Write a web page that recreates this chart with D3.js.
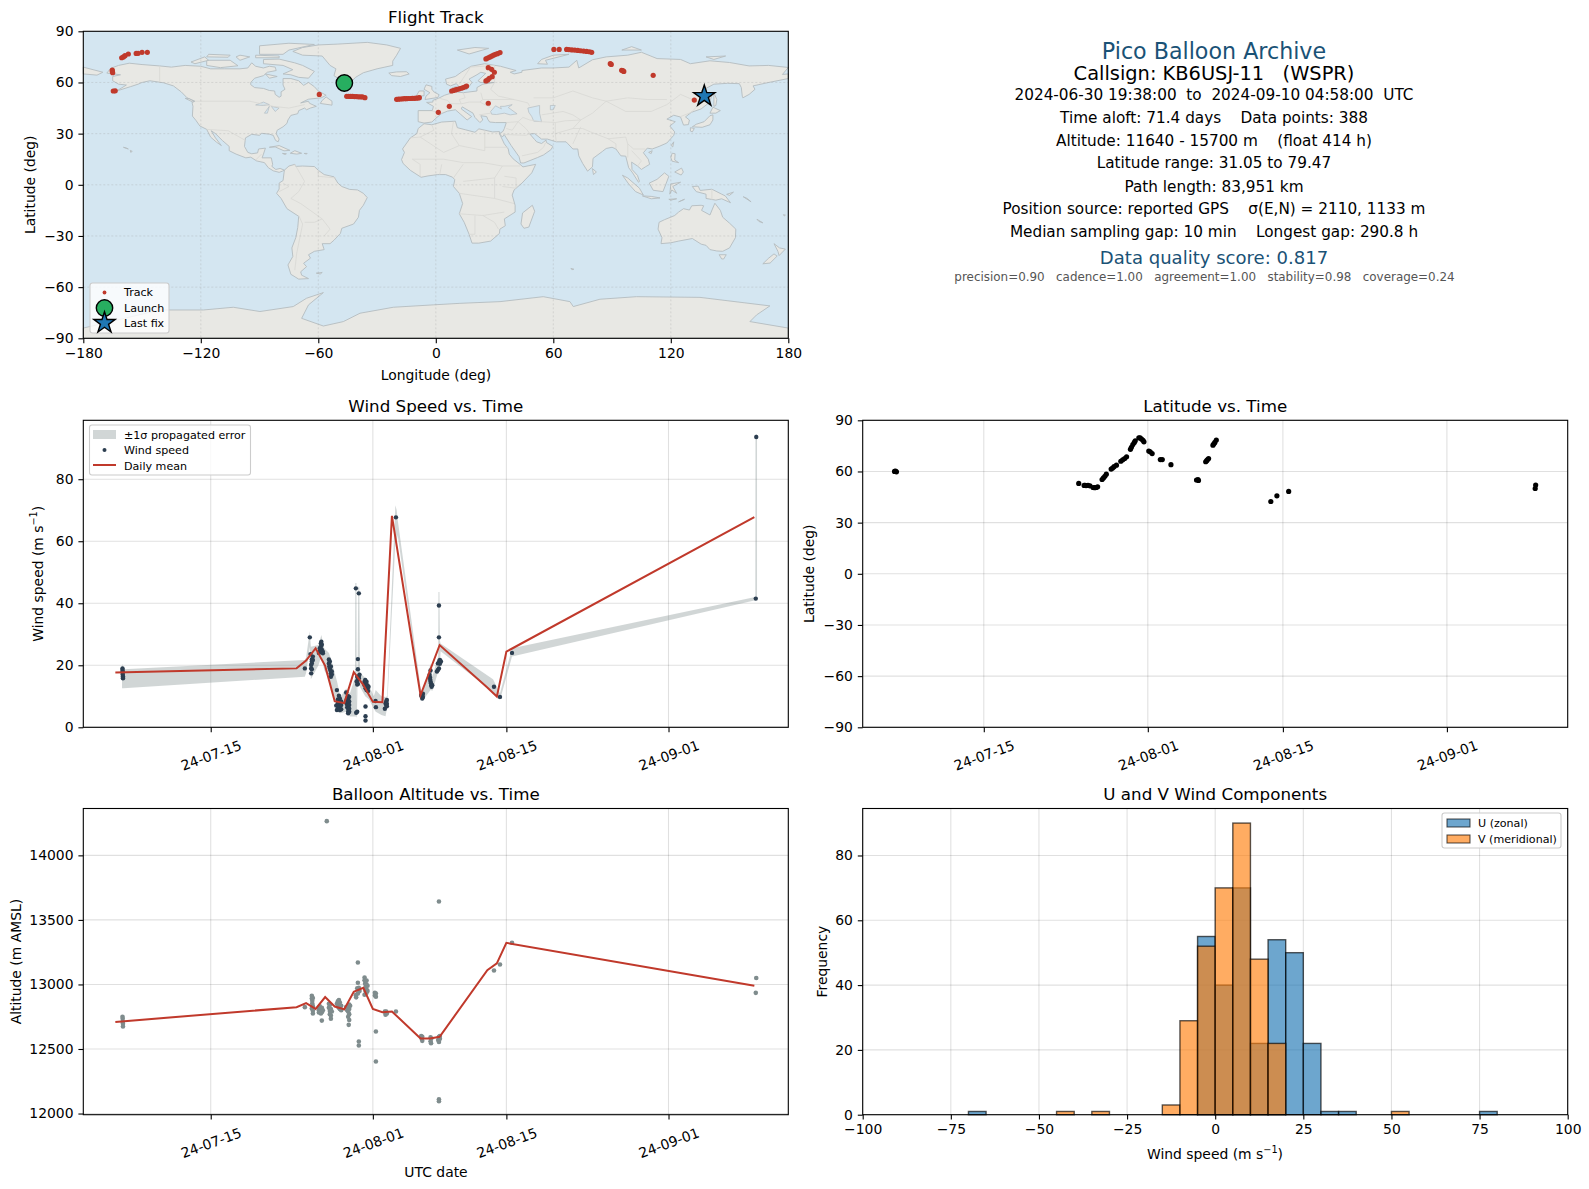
<!DOCTYPE html>
<html>
<head>
<meta charset="utf-8">
<script src="https://cdn.jsdelivr.net/npm/d3@7"></script>
<style>
  html, body { margin: 0; padding: 0; background: #fff; }
  svg { display: block; }
  text { font-family: "DejaVu Sans", sans-serif; fill: #000; white-space: pre; }
</style>
</head>
<body>
<div id="chart"></div>
<script>
/* all times are days since 2024-07-01 00:00 UTC */
const t0 = Date.UTC(2024, 6, 1)
const toDate = t => new Date(t0 + t * 864e5)

const meanDays = [4, 23, 24, 25, 26, 27, 28, 29, 30, 31, 32, 33, 36, 37, 38, 43, 44, 45, 71]
const windMean = [17.7, 19.0, 21.5, 25.5, 19.8, 8.4, 7.8, 17.8, 13.7, 8.2, 8.1, 68.2, 10.4, 18.4, 26.5, 12.8, 9.9, 24.4, 67.8]
const altMean = [12710, 12824, 12855, 12811, 12902, 12829, 12808, 12943, 12974, 12811, 12785, 12791, 12581, 12581, 12594, 13111, 13163, 13322, 12990]

const windObs = [
  [4.75,19],[4.75,18.5],[4.77,18],[4.77,17.5],[4.77,17],[4.8,16.5],[4.8,16],[4.8,15.8],
  [23.87,19],[24.39,29],[24.53,17.4],[24.53,19],[24.53,20.1],[24.6,21.2],[24.6,21.9],[24.6,20.6],[24.6,18.7],[24.71,22.8],[24.71,21.7],[24.46,23.6],
  [25.34,24],[25.44,24.4],[25.44,25.5],[25.55,26],[25.55,27.1],[25.6,27.6],[25.65,25],[25.65,26.6],[25.76,24.4],[25.76,23.9],[25.55,24.4],
  [26.39,21.9],[26.39,20.6],[26.43,19.6],[26.49,21.2],[26.49,19],[26.55,18.3],[26.6,17.4],[26.6,19.6],[26.7,18],[26.7,17],[26.6,16.3],
  [27.23,12],[27.16,7],[27.23,5.6],[27.33,9],[27.33,7.7],[27.38,6.5],[27.44,10.2],[27.44,8.8],[27.44,7.2],[27.54,9.3],[27.54,6.7],[27.54,5.6],[27.68,8.3],[27.68,7.2],[27.68,5.8],
  [28.2,11.2],[28.27,9],[28.27,7.5],[28.31,8.5],[28.31,6.5],[28.41,10],[28.41,9],[28.41,8],[28.41,7],[28.41,6],[28.41,5],[28.41,4.5],[28.52,9.8],[28.52,8.3],[28.52,7.2],[28.52,6],[28.52,5],
  [29.22,44.8],[29.53,43.2],[29.43,22],[29.43,18.7],[29.36,16.3],[29.43,15.3],[29.53,16.3],[29.53,15.8],[29.6,17],[29.3,14.8],[29.36,13.8],[29.43,14],[29.25,4.7],[29.36,5],
  [30.13,14.7],[30.13,13.6],[30.2,15.3],[30.23,14.2],[30.23,12.6],[30.34,14.7],[30.34,13.6],[30.34,12],[30.44,13.5],[30.44,12.6],[30.5,11.7],[30.55,13.1],[30.23,6.7],[30.23,3.6],[30.23,2.2],
  [31.28,8.5],[31.32,6.5],[32.26,6],[32.33,7.7],[32.4,8.3],[32.4,7.2],[32.47,8.8],[32.47,7.6],[32.47,6.8],[33.42,67.7],
  [36.07,10.4],[36.12,9.9],[36.18,10.4],[36.18,9.3],[36.25,10.8],[36.25,9.8],
  [37.05,18.3],[36.95,16.9],[37,16],[37.02,15.3],[37.05,14.7],[37.1,14.2],[37.12,13.6],[37.16,13.1],[37.23,13.6],
  [37.93,39.3],[37.93,29],[37.72,18],[37.82,18.5],[37.82,20.6],[37.93,19],[37.93,20.8],[37.97,21.4],[38.03,21.7],[38.03,20.5],[38.14,21.2],
  [43.7,13.1],[44.33,9.8],[45.59,24],[71.15,41.5],[71.2,93.6]
]

/* t, low, high of the propagated error band */
const windBand = [
  [4.7,12.6,20.6],[4.85,12.6,18.7],[23.87,16.3,21.7],[24.0,17.5,22.5],[24.39,26,31],[24.5,15.5,26],[25.3,20,26.5],[25.6,23,29.8],[25.9,18.5,25.5],
  [26.4,15.5,24],[26.75,11,20.5],[27.25,5,14.7],[27.6,4.5,9.8],[28.2,5,12.5],[28.6,3.5,11],[29.12,3.5,16],[29.16,3.5,46.5],[29.28,3.5,46.5],[29.32,3,8],[29.4,14,20],
  [29.47,14,45.3],[29.58,14,45.3],[29.65,13,17.5],[30.2,10,16],[30.6,9,13.5],[31.1,6,10],[31.3,5,12],[31.9,4,10],[32.33,3.6,9.8],[32.5,6.5,10],[33.36,60,71.6],[33.5,60,70],[33.6,62,67],
  [36.07,8.8,11.5],[36.3,9,12],[37.05,12,20.5],[37.25,11.8,16.5],[37.85,18,23],[37.88,18,43.6],[37.98,18,43.6],[38.03,18.5,28],[38.1,24.5,27],
  [43.6,11.5,15.5],[44.33,8.8,11],[45.59,22.8,25.5],[71.1,41,42],[71.12,41,94.5],[71.28,41,94.5]
]

const altObs = [
  [4.75,12750],[4.77,12735],[4.77,12710],[4.8,12695],[4.8,12675],[23.87,12824],[26.17,14265],
  [24.6,12912],[24.6,12891],[24.65,12873],[24.65,12852],[24.71,12895],[24.71,12832],[24.6,12814],[24.71,12796],[24.71,12775],
  [25.34,12821],[25.34,12801],[25.34,12783],[25.44,12830],[25.44,12790],[25.55,12810],[25.55,12775],[25.65,12820],[25.65,12785],[25.76,12800],[25.65,12720],
  [26.39,12850],[26.39,12820],[26.49,12840],[26.49,12795],[26.49,12770],[26.6,12810],[26.6,12760],[26.6,12735],[26.7,12790],
  [27.23,12850],[27.33,12870],[27.33,12830],[27.44,12880],[27.44,12850],[27.44,12820],[27.54,12860],[27.54,12810],[27.68,12835],[27.68,12800],
  [28.2,12825],[28.31,12800],[28.41,12835],[28.41,12790],[28.41,12750],[28.52,12845],[28.52,12810],[28.52,12770],[28.52,12725],[28.47,12687],[28.62,12835],
  [29.22,12917],[29.25,12900],[29.36,12970],[29.43,13013],[29.53,12975],[29.43,12930],[29.6,12950],[29.43,13170],[29.53,12558],[29.53,12527],
  [30.13,13054],[30.13,13033],[30.2,13010],[30.23,13000],[30.23,12975],[30.23,12950],[30.34,13030],[30.34,13000],[30.34,12960],[30.34,12935],[30.44,12990],[30.44,12950],[30.13,12920],
  [31.21,12935],[31.21,12915],[31.32,12930],[31.32,12905],[31.32,12635],[31.32,12403],
  [32.26,12790],[32.33,12780],[32.33,12765],[32.4,12790],[32.47,12775],[33.42,12790],
  [36.07,12600],[36.12,12580],[36.18,12563],[36.18,12595],[37.05,12590],[37.05,12560],[37.1,12545],[37.12,12580],
  [37.85,12570],[37.93,12555],[37.93,12595],[38.03,12580],[38.03,12600],[37.93,13643],[37.93,12111],[37.93,12095],
  [43.7,13108],[44.33,13155],[45.59,13323],[71.15,12935],[71.2,13050]
]

const latObs = [
  [4.75,60],[4.85,60.2],[4.95,59.8],
  [23.84,53],[24.4,51.8],[24.5,51.8],[24.6,51.7],[24.8,51.8],[25,51.6],[25.33,50.6],[25.5,50.5],[25.65,50.6],[25.8,51],
  [26.26,55.3],[26.4,56.2],[26.55,57.2],[26.7,58.4],[27.2,61.4],[27.35,62],[27.5,62.8],[27.75,63.7],[28.2,66],[28.4,66.8],[28.6,67.6],[28.8,68.6],
  [29.2,73],[29.3,74.2],[29.45,75.8],[29.6,77],[29.7,78],[30.07,79.7],[30.2,79.7],[30.35,79],[30.5,78.3],[30.6,77.4],
  [31.1,72],[31.25,71.5],[31.45,70.5],[32.3,67],[32.5,67],[33.4,64],[36.05,55],[36.2,55.2],[36.25,54.7],
  [37,65.7],[37.1,66.3],[37.2,67],[37.3,67.6],[37.75,75.4],[37.85,76.2],[37.95,77],[38.1,78.4],
  [43.75,42.4],[44.38,45.7],[45.6,48.3],[71.15,50],[71.2,52]
]

const trackLon = [
  -164.7,-163.7,-165.2,-165.2,-165,-160.4,-159.5,-158.7,-157,-153,-152,-150,-147.3,-59.5,
  -45.5,-44.5,-43.5,-42.5,-41.5,-40.5,-39.5,-38.5,-37.5,-36.2,
  -20,-19,-18,-17,-16,-15,-14,-13,-12,-11,-10,-9,-8.4,1.3,6.9,
  8.1,9,10,11,12,13,14,15,15.7,26.8,25.6,26.5,27.5,28.5,29.5,30.5,31.5,32.8,
  26.8,28.5,29.9,28.8,27.3,25.6,26.5,60.3,63,66.8,68,69.5,71,72.5,74,75.5,77,78.5,79.6,
  89.1,89.6,94.9,95.5,96,111,132
]
const trackLat = [
  55,55.1,67.3,66.5,65.7,74.5,75,75.7,76.7,77,77.1,77.7,77.7,53,
  51.9,51.9,51.8,51.8,51.7,51.7,51.6,51.6,51.5,51.1,
  50.1,50.2,50.3,50.4,50.5,50.5,50.6,50.6,50.7,50.7,50.8,50.9,51.1,42.5,46,
  55,55.3,55.6,56,56.3,56.6,57,57.5,57.9,47.8,73.8,74.3,74.8,75.4,76,76.5,76.9,77.5,
  68.7,67.7,66,63.4,62.4,60.9,61.5,79.4,79.4,79.4,79.3,79.1,79,78.8,78.6,78.4,78.2,78,77.7,
  71,70.6,67.1,66.9,66.5,64.2,49.7
]
const launchPos = [-46.7, 59.7]
const lastFixPos = [137.1, 52]

const histEdges = d3.range(-100, 105, 5)
const uCounts = {"-70":1, "-5":55, "0":40, "5":70, "10":22, "15":54, "20":50, "25":22, "30":1, "35":1, "75":1}
const vCounts = {"-45":1, "-35":1, "-15":3, "-10":29, "-5":52, "0":70, "5":90, "10":48, "15":22, "50":1}

const dateTicks = ["2024-07-15", "2024-08-01", "2024-08-15", "2024-09-01"].map(d => new Date(d + "T00:00:00Z"))

const infoLines = [
  ["Pico Balloon Archive", 1214, 50.7, 22.2, "#1a5276"],
  ["Callsign: KB6USJ-11   (WSPR)", 1214, 73, 19.4, "#000"],
  ["2024-06-30 19:38:00  to  2024-09-10 04:58:00  UTC", 1214, 95, 15.28, "#000"],
  ["Time aloft: 71.4 days    Data points: 388", 1214, 117.6, 15.28, "#000"],
  ["Altitude: 11640 - 15700 m    (float 414 h)", 1214, 140.9, 15.28, "#000"],
  ["Latitude range: 31.05 to 79.47", 1214, 163.2, 15.28, "#000"],
  ["Path length: 83,951 km", 1214, 186.5, 15.28, "#000"],
  ["Position source: reported GPS    σ(E,N) = 2110, 1133 m", 1214, 209.3, 15.28, "#000"],
  ["Median sampling gap: 10 min    Longest gap: 290.8 h", 1214, 232, 15.28, "#000"],
  ["Data quality score: 0.817", 1214, 257.4, 18.06, "#1a5276"],
  ["precision=0.90   cadence=1.00   agreement=1.00   stability=0.98   coverage=0.24", 1204.5, 277.2, 11.93, "#555"]
]

/* rough coastlines, lon/lat */
const land = [
  [[-168,65.5],[-166,68.3],[-162,70],[-156.5,71.3],[-150,70.5],[-141,69.7],[-135,69],[-128,70],[-120,69.5],[-115,68],[-108,68],[-100,68],[-96,68.5],[-94,71.5],[-92,69.5],[-88,68.5],[-85,69.5],[-82,69],[-81.5,67],[-86,66],[-88,64],[-92.5,62.5],[-94.5,60],[-94.5,58.7],[-92.5,57],[-88,56.5],[-85,55.3],[-82.3,55],[-82,53],[-80,51.3],[-79,52],[-79,54.5],[-77,56],[-78,58.5],[-78,62.3],[-74,62.3],[-70,61],[-67.5,58.3],[-65,60],[-62,57.5],[-60,55],[-56,52.5],[-58.5,51],[-65,50.2],[-69,48],[-65,49],[-64.5,47.8],[-61,46],[-64,45],[-66,44],[-67,45],[-70,43.5],[-70.5,41.7],[-74,40.7],[-75.5,38],[-76,36],[-78,34],[-81,32],[-81.5,30],[-80,26.8],[-80.5,25.2],[-81.8,26],[-83,29],[-85,29.7],[-89,30.2],[-90,29],[-94,29.6],[-97.2,27.5],[-97.7,22.5],[-96,19],[-94,18.2],[-91,18.7],[-90.5,21],[-87,21.5],[-88,18],[-88.7,15.8],[-84,15.8],[-83.3,12],[-83.7,10.8],[-81.7,9],[-79.5,9.6],[-77.3,8.6],[-78.3,8],[-80,7.3],[-83,8.2],[-85.5,10],[-87.5,13],[-91.5,14],[-94.5,16.2],[-97,15.8],[-102,18],[-105.5,20],[-105.5,22.5],[-109,26],[-112.5,30],[-114.7,31.7],[-112.5,27.5],[-109.5,23],[-112,25],[-115,28],[-117,32.5],[-120.5,34.5],[-122.5,37.8],[-124.3,40.3],[-124,46],[-124.5,48.3],[-123,49],[-127,51],[-130,54.5],[-134,58],[-139,59.8],[-146,61],[-150,60],[-152,59],[-156,57.5],[-163,55],[-158,58.5],[-162,59],[-165,61],[-165,63.5],[-161,64.5]],
  [[-73,78.2],[-68,76],[-58,75.5],[-54,70],[-51,68],[-52,64],[-48,61],[-43.5,60],[-41,63],[-37,65.7],[-30,68],[-22,70],[-22,72.5],[-20,76],[-18,80],[-25,82],[-35,83.5],[-50,82.5],[-60,82],[-68,80.5]],
  [[-80,73.7],[-72,71.5],[-68,70],[-62,66.5],[-65,62.5],[-70,63],[-74,64.5],[-78,65],[-73,67.5],[-78,70],[-88,71],[-88,73.5]],
  [[-117,73],[-105,73],[-101,69.8],[-110,68.7],[-117,70]],
  [[-125,72],[-118,75],[-116,73],[-123,71]],
  [[-90,76.5],[-78,76.5],[-75,79],[-62,82.3],[-75,83],[-90,81.5]],
  [[-92,76],[-80,75.5],[-80,74.5],[-92,74.5]],
  [[-116,76.5],[-105,76],[-106,74.8],[-117,75]],
  [[-100,76],[-95,75],[-100,73],[-102,75]],
  [[-59,47.7],[-53,46.7],[-53,49],[-56,51.5],[-58,49.5]],
  [[-87,65],[-81,63.5],[-85,62.5]],
  [[-128,50.7],[-124,48.5],[-123.5,49],[-126,50.5]],
  [[-85,22],[-80,23],[-74.5,20.2],[-77.5,19.9],[-82,22.2]],
  [[-74.3,18.5],[-72,20],[-68.5,18.5],[-71,18]],
  [[-78.3,18.4],[-76.3,18.2],[-77,17.8]],
  [[-67.2,18.4],[-65.7,18.4],[-66,18]],
  [[-156,20.2],[-155,19.6],[-155.8,19]],
  [[-159.5,22],[-158,21.5],[-157,21]],
  [[-77.3,8.6],[-75,11],[-72,12],[-71.5,10.8],[-68,11],[-62,10.7],[-60,8.5],[-57,6],[-52,4.7],[-50,1],[-48,-1],[-44,-2.7],[-40,-3],[-37,-5],[-35,-7.5],[-37,-12],[-39,-15],[-39.5,-19],[-42,-23],[-48,-25.5],[-48.7,-28.5],[-52,-32.5],[-54,-34.5],[-58,-34.5],[-57,-38],[-62,-39],[-65,-41],[-64,-43],[-67.5,-46],[-66,-48],[-69,-51],[-68.5,-53],[-65,-55],[-70,-55.3],[-74,-52.5],[-75.5,-47],[-73,-42],[-73.5,-37],[-71.5,-31],[-70.5,-25],[-70,-18.5],[-76,-14],[-79,-8],[-81.3,-5],[-80,-2.5],[-80,1],[-78,2.5],[-77.5,7]],
  [[-61,-51.8],[-58,-51.4],[-59,-52.3]],
  [[-6,35.8],[-2,35.2],[3,36.8],[10,37.3],[11,33.5],[15,32.3],[20,30.8],[22,32.8],[29,31],[32.5,31.2],[32.5,30],[35,24],[37,21],[37.5,18],[39.5,15.2],[43,12],[44.5,10.5],[51,12],[49,7],[44,1],[40,-3],[39,-6],[40.5,-12],[40.5,-16],[35,-20],[35.5,-24],[32.7,-26],[32.5,-28.5],[28,-33],[22,-34.2],[18.5,-34.2],[17,-29],[14.5,-22],[12,-17],[13.7,-11],[12,-5],[9,-1],[9.7,3],[8.5,4.5],[5,6],[1,6],[-4,5.2],[-7.5,4.4],[-13,8.5],[-16.7,12.5],[-17.5,14.8],[-16,19],[-17,21],[-13,27.5],[-9.7,30],[-9,33]],
  [[49.3,-12],[50.5,-15.5],[47.5,-24.8],[45,-25.5],[43.5,-23],[44.3,-16.5]],
  [[-9,37],[-6,36.2],[-2,36.8],[0,39],[3,41.8],[6,43.2],[10,44],[12.5,41.5],[16,38],[18.3,40],[13,44.5],[13.5,45.7],[19,42],[20,39.5],[22.5,36.5],[24,38],[23,40.5],[26,40],[26.5,38.5],[27.5,36.8],[30.5,36.5],[36,36.5],[35,33],[34.3,31.3],[32.5,30],[34,28],[34.9,29.5],[38.5,23],[42.5,16.5],[43.3,12.8],[45,12.8],[52,16],[55,17.5],[58.7,20.5],[59.8,22.5],[56.5,24.8],[56.3,26.2],[54,24.2],[51.5,25.2],[50.5,26.5],[48,29.8],[50.5,30],[54,26.8],[57,26.8],[61.5,25.2],[66.5,25.2],[67.5,24],[70,21],[72.5,21],[73,17],[75,12.5],[77.5,8],[80,10.5],[80.3,15.5],[85,19.5],[87,21.3],[90,22],[92,21],[94.5,17],[97,16.8],[98.5,10],[100.5,7],[103.5,1.5],[104,2],[103,5.5],[100.2,9],[100,13.3],[103,11],[105,9],[107,10.5],[109.2,12],[108.5,15],[106,18.8],[108,21.5],[110.5,21],[114,22.5],[118,24.5],[121.5,29],[122,31],[119.5,34.5],[122.3,37],[118,38.5],[121.5,40.8],[125,39.7],[126.5,35],[129,35.3],[129.5,38],[127.5,39.8],[130.5,42.5],[135.5,44.5],[140,48.5],[141,53],[137,54],[135.5,55],[142,59],[149,59.5],[155,59.3],[156,57],[156.5,52],[156.8,51],[160,53],[163,56],[162,58],[170,60],[180,62.3],[180,65],[177,64.7],[180,68.8],[170,70],[160,69.7],[150,71.7],[140,72.7],[130,71],[125,73.5],[113,74],[105,77.7],[98,76],[87,75],[80,73.3],[73,68.5],[72,73],[68,69],[60,68.5],[54,68.5],[44,67],[44,66],[40,65],[38,66],[41,67],[33,69.5],[25,71],[18,69.5],[13,66],[10,63.5],[5,62],[5.5,59],[7.5,58],[10.5,59.3],[13,56],[16,56],[18.5,60],[17,62],[21,64.5],[23,66],[25.5,65.3],[21.5,61],[23,60],[30,60],[24,59],[21,57],[21,55],[14,54],[10,54.5],[10.5,57.5],[8.5,57],[8.5,54],[4.5,52.5],[1.5,50.8],[-1.5,49.5],[-1.5,48.5],[-4.7,48.3],[-1.2,46],[-1.8,43.5],[-9,43.5]],
  [[-180,65],[-173,64.3],[-170,66],[-175,67.5],[-180,69]],
  [[-5.5,50],[1,51.2],[1.7,52.8],[-1,54.5],[-2,56],[-2,57.7],[-5,58.6],[-6,56],[-3,54],[-5,52]],
  [[-10,52],[-6,52.2],[-6,55],[-8.5,55]],
  [[-24,65.5],[-20,66.2],[-15,66.3],[-13.6,65],[-18,63.5],[-22.5,64]],
  [[11,79],[20,80.5],[27,80],[17,76.7]],
  [[52,71],[57,70.7],[56,73],[68,76.5],[60,76],[54,73.5]],
  [[95,79],[105,79],[100,81]],
  [[138,75],[148,75.5],[142,73.5]],
  [[142,54],[143.5,50],[143,46.5],[142,46],[142,50]],
  [[131,34],[136,33.7],[140,35.2],[141.5,38],[141.5,41],[140,40.5],[137,37],[133,35.5]],
  [[130,33.5],[132,33],[131,31],[130,31.5]],
  [[140,42],[141.5,45.5],[145.3,43.5],[143,42]],
  [[80,9.5],[82,7.5],[80.5,6]],
  [[120.2,23],[121.5,25.2],[121,22.2]],
  [[108.7,19],[110.5,20],[110,18.3]],
  [[120,16],[120.7,18.5],[122.2,18.2],[122,14.5],[124,13],[120.7,13.8]],
  [[122,7.5],[125.5,9.8],[126.4,7.5],[125.3,5.7]],
  [[95.3,5.6],[98,4],[104,-2],[106,-6],[102,-4],[98.5,0.5]],
  [[105.5,-6.5],[110,-6.8],[114.5,-7.7],[110,-8.2]],
  [[109,1],[113,3.2],[116.8,7],[119,5],[117.7,1],[116,-4],[111,-3.2]],
  [[119.5,-5.5],[120,0.5],[125,1.5],[121,-1],[123,-5],[120.5,-3]],
  [[131,-1],[134,-0.8],[135,-3.3],[141,-2.6],[146,-5.5],[147.8,-6.5],[150.5,-10.5],[146,-8.2],[143,-9],[138,-8],[138,-5.5],[133,-4]],
  [[114,-22],[116.7,-20.5],[122,-18],[124,-16],[126.5,-14],[129.5,-14.8],[130.7,-12.3],[135.5,-12],[136.8,-12.3],[135.7,-15],[140,-17.7],[141.7,-13],[142.5,-10.8],[145.3,-15],[146.5,-19],[150,-22.5],[153.2,-26],[153,-31],[150,-37],[146.5,-39],[143.5,-38.8],[140,-38],[138,-35.5],[135.5,-34.8],[131,-31.5],[124,-33],[120,-34],[115,-34.5],[115.5,-31],[113.5,-26]],
  [[144.7,-41],[148.3,-41],[147,-43.5],[146,-43.5]],
  [[172.7,-34.5],[175.5,-37],[178.5,-37.7],[175.3,-41.5],[174.7,-39]],
  [[172.7,-40.5],[174.3,-41.8],[170.7,-45.9],[167,-46.3],[170,-43]],
  [[148.5,-5.6],[152,-4.3],[150,-6.2]],
  [[157,-7],[161,-10],[159,-8]],
  [[164,-20.2],[167,-22.3],[165,-21.5]],
  [[177.5,-17.5],[178.5,-17.8],[178,-18.3]],
  [[124,-10],[127,-8.5],[125,-9.5]],
  [[119,-8.5],[123,-8.2],[120,-9]],
  [[69,-49],[70.5,-49.5],[69.5,-49.8]],
  [[-180,-84],[-158,-78],[-141,-73.4],[-118.7,-73.4],[-103.4,-71.8],[-89.8,-74.3],[-72.8,-71.4],[-66,-66.5],[-57.4,-63.2],[-65,-70.4],[-68.5,-78.3],[-57.4,-82.8],[-47.2,-80.2],[-38.7,-75.3],[-21.7,-71.8],[-1.3,-70.4],[12.3,-69.5],[32.8,-68.5],[54.9,-65.6],[68.5,-68.5],[70.2,-71.4],[83.8,-67.1],[102.5,-65.6],[134.9,-66],[170.6,-71],[163.8,-76.3],[160.4,-80.2],[180,-84],[180,-90],[-180,-90]]
]
const inlandSeas = [
  [[28,43],[28.5,41.4],[31,41.2],[35,42],[38,41],[41.5,41.6],[38,44.5],[37,45.3],[39,47],[35,46],[33,46],[33.5,44.5],[30.5,46.3]],
  [[47,45],[53,46.5],[53,42],[54,37],[50,37.3],[49,40],[47.5,42.5]],
  [[58.5,46.5],[61,46.5],[60,44],[58.5,44]],
  [[-92,46.8],[-88,48.5],[-85,47],[-88,46.5]],
  [[-87.5,42],[-85,46],[-86,42]],
  [[-84,46],[-80,45],[-82,43]]
]
const borders = [
  [[-123,49],[-95,49],[-83,46],[-75,45],[-67,47]],[[-141,69.7],[-141,60]],[[-117,32.5],[-106,31.7],[-97.2,26]],
  [[-92,14.5],[-89,18]],[[-72,12],[-67,2],[-70,-4],[-74,-8],[-69,-11],[-58,-20],[-54,-26],[-57,-30]],[[-60,8.5],[-60,5],[-51,4]],[[-70,-18],[-68,-23],[-71,-40],[-72,-50]],[[-58,-20],[-62,-22],[-67,-22]],[[-78,1],[-75,-1],[-80,-4]],
  [[-2,35],[-1,32],[-8,28],[-13,27.5]],[[-8,28],[4,19],[12,23],[25,20],[25,32]],[[25,22],[37,22]],[[-12,15],[4,15],[14,13],[24,13],[34,11],[43,11]],[[9,37],[8,30],[12,23]],[[-8,5],[-8,12],[-12,15]],[[2,6],[3,12]],[[9,4],[14,12]],[[14,2],[30,4],[34,11]],[[12,-5],[30,-8],[30,4]],[[30,-8],[40,-11]],[[12,-17],[24,-18],[35,-16]],[[20,-18],[20,-29],[17,-29]],[[24,-18],[30,-22],[32,-26]],[[34,-1],[41,-2],[41,4],[35,5]],
  [[-1.8,43.2],[3,42.4]],[[1.5,50.8],[6,49.5],[7.5,47.6],[7,44]],[[7.5,47.6],[13,47.5],[17,48.5],[22.5,48.5],[28,45.3]],[[14,54],[15,51],[12,50],[13,47.5]],[[23,54],[24,50],[22.5,48.5]],[[24,50],[40,50],[47,48],[48,46]],[[30,60],[28,56],[32,52],[40,50]],[[12,59],[18,69.5]],[[18,69],[30,70]],[[30,70],[30,60]],[[22,41],[28,42]],[[36,36.5],[42,37],[44.5,39.5]],[[42,37],[46,33],[48,30]],[[36,33],[39,32],[42,37]],[[35,29.5],[46,29],[48,30]],[[44,17],[52,19],[55,22],[56,24.5]],[[44.5,39.5],[48,38],[54,37],[61,36.5],[61,30],[61.5,25.2]],[[61,36.5],[66,37.5],[74,38],[70,33],[61,30]],[[54,41],[65,43],[70,41],[74,38]],[[50,51],[60,51],[70,55],[80,51],[87,49]],[[87,49],[97,43],[110,43],[118,47],[125,53],[135,48],[130.5,42.5]],[[87,49],[98,51],[108,50],[118,50]],[[74,38],[80,42],[87,49]],[[70,33],[75,33],[79,31],[88,27],[97,28],[98,24],[101,21],[107,21]],[[70,24],[74,34]],[[88,27],[92,24],[92,21]],[[98,24],[98,16]],[[100,20],[105,14],[103,11]],[[125,40],[130.5,42.5]],[[141,-2.6],[141,-9]]
]

const width = 1589, height = 1189
const colL = [83.3, 788.3], colR = [862.7, 1567.7]
const rowT = [31.3, 338.3], rowM = [420.3, 727.3], rowB = [808.5, 1114.7]

const navy = "#2c3e50", red = "#c0392b", slate = "#7f8c8d"
const minus = d => String(d).replace("-", "−")

const svg = d3.select("#chart").append("svg")
  .attr("width", width).attr("height", height).attr("viewBox", `0 0 ${width} ${height}`)

function axes({ x, y, xTicks, yTicks, xFormat, yFormat, title, rotate, grid = true }) {
  const g = svg.append("g")
  const [x0, x1] = x.range(), [y1, y0] = y.range()
  if (grid) {
    const lines = g.append("g").attr("stroke", "#000").attr("stroke-opacity", 0.12).attr("stroke-width", 1.1)
    lines.selectAll(".gx").data(xTicks).join("line").attr("x1", d => x(d)).attr("x2", d => x(d)).attr("y1", y0).attr("y2", y1)
    lines.selectAll(".gy").data(yTicks).join("line").attr("y1", d => y(d)).attr("y2", d => y(d)).attr("x1", x0).attr("x2", x1)
  }

  const layer = g.append("g")

  const xa = g.append("g").attr("transform", `translate(0,${y1})`)
    .call(d3.axisBottom(x).tickValues(xTicks).tickFormat(xFormat).tickSize(4.9).tickPadding(4.9))
  const ya = g.append("g").attr("transform", `translate(${x0},0)`)
    .call(d3.axisLeft(y).tickValues(yTicks).tickFormat(yFormat).tickSize(4.9).tickPadding(4.9))
  for (const a of [xa, ya]) {
    a.attr("font-family", null).attr("font-size", null)
    a.selectAll("text").attr("font-size", 13.9)
    a.selectAll("line").attr("stroke-width", 1.1).attr("stroke", "#000")
    a.select(".domain").remove()
  }
  if (rotate) {
    xa.selectAll("text")
      .attr("text-anchor", "middle").attr("dy", null).attr("y", 0)
      .attr("dominant-baseline", "central")
      .attr("transform", "translate(0,28) rotate(-20)")
  }
  g.append("rect").attr("x", x0).attr("y", y0).attr("width", x1 - x0).attr("height", y1 - y0)
    .attr("fill", "none").attr("stroke", "#000").attr("stroke-width", 1.1)
  g.append("text").attr("x", (x0 + x1) / 2).attr("y", y0 - 8.3).attr("text-anchor", "middle")
    .attr("font-size", 16.7).text(title)
  return layer
}

function xLabel(text, x, y) {
  svg.append("text").attr("x", x).attr("y", y).attr("text-anchor", "middle")
    .attr("dominant-baseline", "central").attr("font-size", 13.9).text(text)
}
function yLabel(x, y) {
  return svg.append("text").attr("transform", `translate(${x},${y}) rotate(-90)`)
    .attr("text-anchor", "middle").attr("dominant-baseline", "central").attr("font-size", 13.9)
}
function windUnit(t) {
  t.append("tspan").text("Wind speed (m s")
  t.append("tspan").attr("font-size", 9.7).attr("dy", -5).text("−1")
  t.append("tspan").attr("dy", 5).text(")")
}
function legendBox(x, y, w, h) {
  svg.append("rect").attr("x", x).attr("y", y).attr("width", w).attr("height", h).attr("rx", 2.5)
    .attr("fill", "#fff").attr("fill-opacity", 0.8).attr("stroke", "#ccc").attr("stroke-width", 1.1)
}
function legendText(text, x, y) {
  svg.append("text").attr("x", x).attr("y", y).attr("dominant-baseline", "central").attr("font-size", 11.1).text(text)
}

/* ---- flight track ---- */
const mapX = d3.scaleLinear().domain([-180, 180]).range(colL)
const mapY = d3.scaleLinear().domain([-90, 90]).range([rowT[1], rowT[0]])
const coast = d3.line().x(d => mapX(d[0])).y(d => mapY(d[1])).curve(d3.curveLinearClosed)
const borderLine = d3.line().x(d => mapX(d[0])).y(d => mapY(d[1]))

svg.append("rect").attr("x", colL[0]).attr("y", rowT[0]).attr("width", colL[1] - colL[0]).attr("height", rowT[1] - rowT[0]).attr("fill", "#d4e6f1")
svg.append("g").selectAll("path").data(land).join("path").attr("d", coast)
  .attr("fill", "#e8e8e4").attr("stroke", "#b4bcc0").attr("stroke-width", 0.9).attr("stroke-linejoin", "round")
svg.append("g").selectAll("path").data(inlandSeas).join("path").attr("d", coast)
  .attr("fill", "#d4e6f1").attr("stroke", "#b4bcc0").attr("stroke-width", 0.7)
svg.append("g").selectAll("path").data(borders).join("path").attr("d", borderLine)
  .attr("fill", "none").attr("stroke", "#d8d8d4").attr("stroke-width", 0.8)
svg.append("g").attr("stroke", "#999").attr("stroke-opacity", 0.4).attr("stroke-width", 0.7).attr("stroke-dasharray", "2,2")
  .call(g => {
    g.selectAll(".v").data(d3.range(-120, 180, 60)).join("line").attr("x1", d => mapX(d)).attr("x2", d => mapX(d)).attr("y1", rowT[0]).attr("y2", rowT[1])
    g.selectAll(".h").data(d3.range(-60, 90, 30)).join("line").attr("y1", d => mapY(d)).attr("y2", d => mapY(d)).attr("x1", colL[0]).attr("x2", colL[1])
  })

axes({
  x: mapX, y: mapY, grid: false,
  xTicks: d3.range(-180, 181, 60), yTicks: d3.range(-90, 91, 30),
  xFormat: minus, yFormat: minus, title: "Flight Track"
})
svg.selectAll(".trk").data(d3.zip(trackLon, trackLat)).join("circle").attr("class", "trk")
  .attr("cx", d => mapX(d[0])).attr("cy", d => mapY(d[1])).attr("r", 2.6).attr("fill", red)
xLabel("Longitude (deg)", 436, 375)
yLabel(30.4, 184.8).text("Latitude (deg)")

legendBox(90, 283, 79, 50)
svg.append("circle").attr("cx", 104.5).attr("cy", 292.5).attr("r", 1.9).attr("fill", red)
legendText("Track", 124, 292.5)
legendText("Launch", 124, 308)
legendText("Last fix", 124, 323)

const starPath = d3.symbol(d3.symbolStar, 140)
function drawMarkers(launchXY, starXY) {
  svg.append("circle").attr("cx", launchXY[0]).attr("cy", launchXY[1]).attr("r", 8.2)
    .attr("fill", "#27ae60").attr("stroke", "#000").attr("stroke-width", 1.4)
  svg.append("path").attr("d", starPath()).attr("transform", `translate(${starXY[0]},${starXY[1]})`)
    .attr("fill", "#1f77b4").attr("stroke", "#000").attr("stroke-width", 1.4)
}
drawMarkers([104.5, 308], [104.5, 323])
drawMarkers([mapX(launchPos[0]), mapY(launchPos[1])], [mapX(lastFixPos[0]), mapY(lastFixPos[1])])

/* ---- summary text ---- */
svg.append("g").selectAll("text").data(infoLines).join("text")
  .attr("x", d => d[1]).attr("y", d => d[2]).attr("text-anchor", "middle").attr("dominant-baseline", "central")
  .attr("font-size", d => d[3]).style("fill", d => d[4]).text(d => d[0])

/* ---- wind speed ---- */
const timeL = d3.scaleUtc().domain([toDate(0.64), toDate(74.56)]).range(colL)
const timeR = d3.scaleUtc().domain([toDate(1.45), toDate(74.52)]).range(colR)
const fmtDate = d3.utcFormat("%y-%m-%d")

const windY = d3.scaleLinear().domain([0, 99]).range([rowM[1], rowM[0]])
const windLayer = axes({ x: timeL, y: windY, xTicks: dateTicks, yTicks: [0, 20, 40, 60, 80], xFormat: fmtDate, yFormat: d => d, title: "Wind Speed vs. Time", rotate: true })
windLayer.append("path").datum(windBand)
  .attr("d", d3.area().x(d => timeL(toDate(d[0]))).y0(d => windY(d[1])).y1(d => windY(d[2])))
  .attr("fill", slate).attr("fill-opacity", 0.36)
windLayer.selectAll("circle").data(windObs).join("circle")
  .attr("cx", d => timeL(toDate(d[0]))).attr("cy", d => windY(d[1])).attr("r", 2.2).attr("fill", navy)
windLayer.append("path").datum(d3.zip(meanDays, windMean))
  .attr("d", d3.line().x(d => timeL(toDate(d[0]))).y(d => windY(d[1])))
  .attr("fill", "none").attr("stroke", red).attr("stroke-width", 2)
windUnit(yLabel(37.5, 573.8))

legendBox(89.5, 425, 161, 50)
svg.append("rect").attr("x", 93).attr("y", 430).attr("width", 23).attr("height", 9).attr("fill", slate).attr("fill-opacity", 0.36)
svg.append("circle").attr("cx", 104.5).attr("cy", 450).attr("r", 2).attr("fill", navy)
svg.append("line").attr("x1", 93).attr("x2", 116).attr("y1", 465).attr("y2", 465).attr("stroke", red).attr("stroke-width", 2)
legendText("±1σ propagated error", 124, 435)
legendText("Wind speed", 124, 450)
legendText("Daily mean", 124, 466)

/* ---- latitude ---- */
const latY = d3.scaleLinear().domain([-90, 90]).range([rowM[1], rowM[0]])
const latLayer = axes({ x: timeR, y: latY, xTicks: dateTicks, yTicks: d3.range(-90, 91, 30), xFormat: fmtDate, yFormat: minus, title: "Latitude vs. Time", rotate: true })
latLayer.selectAll("circle").data(latObs).join("circle")
  .attr("cx", d => timeR(toDate(d[0]))).attr("cy", d => latY(d[1])).attr("r", 2.6).attr("fill", "#000")
yLabel(809, 573.8).text("Latitude (deg)")

/* ---- altitude ---- */
const altY = d3.scaleLinear().domain([11991, 14363]).range([rowB[1], rowB[0]])
const altLayer = axes({ x: timeL, y: altY, xTicks: dateTicks, yTicks: d3.range(12000, 14001, 500), xFormat: fmtDate, yFormat: d => d, title: "Balloon Altitude vs. Time", rotate: true })
altLayer.selectAll("circle").data(altObs).join("circle")
  .attr("cx", d => timeL(toDate(d[0]))).attr("cy", d => altY(d[1])).attr("r", 2.3).attr("fill", slate)
altLayer.append("path").datum(d3.zip(meanDays, altMean))
  .attr("d", d3.line().x(d => timeL(toDate(d[0]))).y(d => altY(d[1])))
  .attr("fill", "none").attr("stroke", red).attr("stroke-width", 2)
xLabel("UTC date", 436, 1171.5)
yLabel(15.7, 961.6).text("Altitude (m AMSL)")

/* ---- U and V histogram ---- */
const histX = d3.scaleLinear().domain([-100, 100]).range(colR)
const histY = d3.scaleLinear().domain([0, 94.5]).range([rowB[1], rowB[0]])
const histLayer = axes({ x: histX, y: histY, xTicks: d3.range(-100, 101, 25), yTicks: [0, 20, 40, 60, 80], xFormat: minus, yFormat: d => d, title: "U and V Wind Components" })
function drawBars(counts, colour) {
  const bins = histEdges.slice(0, -1).filter(e => counts[e])
  histLayer.append("g").selectAll("rect").data(bins).join("rect")
    .attr("x", d => histX(d)).attr("width", d => histX(d + 5) - histX(d))
    .attr("y", d => histY(counts[d])).attr("height", d => histY(0) - histY(counts[d]))
    .attr("fill", colour).attr("fill-opacity", 0.65)
    .attr("stroke", "#000").attr("stroke-opacity", 0.65).attr("stroke-width", 1.4)
}
drawBars(uCounts, "#1f77b4")
drawBars(vCounts, "#ff7f0e")
windUnit(svg.append("text").attr("x", 1215).attr("y", 1154).attr("text-anchor", "middle").attr("dominant-baseline", "central").attr("font-size", 13.9))
yLabel(822, 961.6).text("Frequency")

legendBox(1442, 813, 119, 35)
for (const [lab, col, yy] of [["U (zonal)", "#1f77b4", 823], ["V (meridional)", "#ff7f0e", 839]]) {
  svg.append("rect").attr("x", 1447).attr("y", yy - 4).attr("width", 23).attr("height", 8)
    .attr("fill", col).attr("fill-opacity", 0.65).attr("stroke", "#000").attr("stroke-opacity", 0.65).attr("stroke-width", 1.1)
  legendText(lab, 1478, yy)
}
</script>
</body>
</html>
